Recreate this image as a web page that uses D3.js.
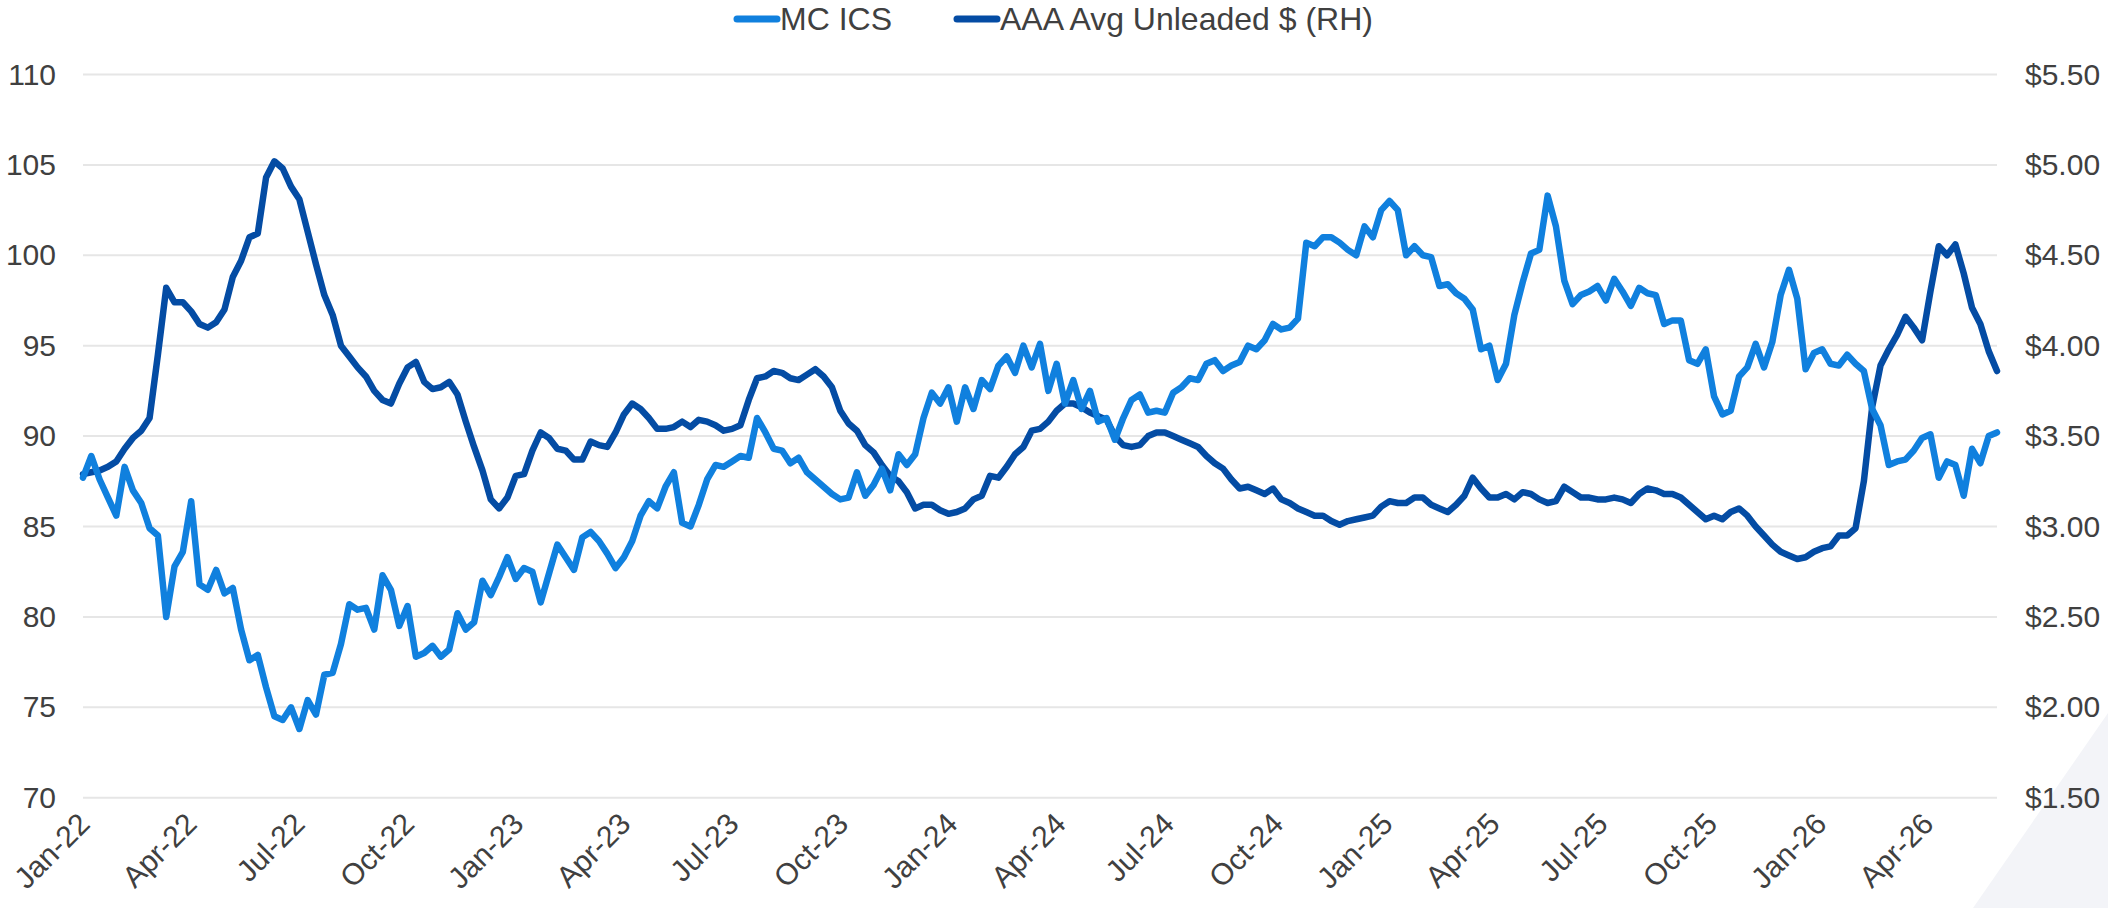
<!DOCTYPE html>
<html>
<head>
<meta charset="utf-8">
<script src="https://cdnjs.cloudflare.com/ajax/libs/d3/7.8.5/d3.min.js"></script>
<style>
  body { margin: 0; background: #fff; }
  svg text { font-family: "Liberation Sans", Arial, sans-serif; fill: #404040; }
</style>
</head>
<body>
<script>
/* weekly readings, first one on 2022-01-01 */
var startDate = "2022-01-01"
var seriesNames = ["MC ICS", "AAA Avg Unleaded $ (RH)"]

var icsValues = [
  87.7, 88.9, 87.6, 86.6, 85.6, 88.3, 87.0, 86.3, 84.9, 84.5,
  80.0, 82.8, 83.6, 86.4, 81.8, 81.5, 82.6, 81.3, 81.6, 79.3,
  77.6, 77.9, 76.1, 74.5, 74.3, 75.0, 73.8, 75.4, 74.6, 76.8,
  76.9, 78.5, 80.7, 80.4, 80.5, 79.3, 82.3, 81.5, 79.5, 80.6,
  77.8, 78.0, 78.4, 77.8, 78.2, 80.2, 79.3, 79.7,
  82.0, 81.2, 82.2, 83.3, 82.1, 82.7, 82.5, 80.8, 82.4, 84.0,
  83.3, 82.6, 84.4, 84.7, 84.2, 83.5, 82.7, 83.3, 84.2, 85.6,
  86.4, 86.0, 87.2, 88.0, 85.2, 85.0, 86.2, 87.6, 88.4, 88.3,
  88.6, 88.9, 88.8, 91.0, 90.2, 89.3, 89.2, 88.5, 88.8, 88.0,
  87.6, 87.2, 86.8, 86.5, 86.6, 88.0, 86.7,
  87.3, 88.2, 87.0, 89.0, 88.4, 89.0, 91.0, 92.4, 91.8, 92.7,
  90.8, 92.7, 91.5, 93.1, 92.6, 93.9, 94.4, 93.5, 95.0, 93.8,
  95.1, 92.5, 94.0, 91.8, 93.1, 91.5, 92.5, 90.8, 91.0, 89.8,
  91.0, 92.0, 92.3, 91.3, 91.4, 91.3, 92.4, 92.7, 93.2, 93.1,
  94.0, 94.2, 93.6, 93.9, 94.1, 95.0, 94.8,
  95.3, 96.2, 95.9, 96.0, 96.5, 100.7, 100.5, 101.0, 101.0, 100.7,
  100.3, 100.0, 101.6, 101.0, 102.5, 103.0, 102.5, 100.0, 100.5, 100.0,
  99.9, 98.3, 98.4, 97.9, 97.6, 97.0, 94.8, 95.0, 93.1, 94.0,
  96.7, 98.5, 100.1, 100.3, 103.3, 101.6, 98.6, 97.3, 97.8, 98.0,
  98.3, 97.5, 98.7, 98.0, 97.2, 98.2, 97.9,
  97.8, 96.2, 96.4, 96.4, 94.2, 94.0, 94.8, 92.2, 91.2, 91.4,
  93.3, 93.8, 95.1, 93.8, 95.2, 97.8, 99.2, 97.6, 93.7, 94.6,
  94.8, 94.0, 93.9, 94.5, 94.0, 93.6, 91.5, 90.6, 88.4, 88.6,
  88.7, 89.2, 89.9, 90.1, 87.7, 88.6, 88.4, 86.7, 89.3, 88.5,
  90.0, 90.2
]

var gasValues = [
  3.29, 3.30, 3.31, 3.33, 3.36, 3.43, 3.49, 3.53, 3.60, 3.95,
  4.32, 4.24, 4.24, 4.19, 4.12, 4.10, 4.13, 4.20, 4.38, 4.47,
  4.60, 4.62, 4.93, 5.02, 4.98, 4.88, 4.81, 4.63, 4.45, 4.28,
  4.17, 4.00, 3.94, 3.88, 3.83, 3.75, 3.70, 3.68, 3.79, 3.88,
  3.91, 3.80, 3.76, 3.77, 3.80, 3.73, 3.58, 3.44,
  3.31, 3.15, 3.10, 3.16, 3.28, 3.29, 3.42, 3.52, 3.49, 3.43,
  3.42, 3.37, 3.37, 3.47, 3.45, 3.44, 3.52, 3.62, 3.68, 3.65,
  3.60, 3.54, 3.54, 3.55, 3.58, 3.55, 3.59, 3.58, 3.56, 3.53,
  3.54, 3.56, 3.70, 3.82, 3.83, 3.86, 3.85, 3.82, 3.81, 3.84,
  3.87, 3.83, 3.77, 3.64, 3.57, 3.53, 3.45,
  3.41, 3.34, 3.28, 3.25, 3.19, 3.10, 3.12, 3.12, 3.09, 3.07,
  3.08, 3.10, 3.15, 3.17, 3.28, 3.27, 3.33, 3.40, 3.44, 3.53,
  3.54, 3.58, 3.64, 3.68, 3.68, 3.66, 3.63, 3.61, 3.59, 3.50,
  3.45, 3.44, 3.45, 3.50, 3.52, 3.52, 3.50, 3.48, 3.46, 3.44,
  3.39, 3.35, 3.32, 3.26, 3.21, 3.22, 3.20,
  3.18, 3.21, 3.15, 3.13, 3.10, 3.08, 3.06, 3.06, 3.03, 3.01,
  3.03, 3.04, 3.05, 3.06, 3.11, 3.14, 3.13, 3.13, 3.16, 3.16,
  3.12, 3.10, 3.08, 3.12, 3.17, 3.27, 3.21, 3.16, 3.16, 3.18,
  3.15, 3.19, 3.18, 3.15, 3.13, 3.14, 3.22, 3.19, 3.16, 3.16,
  3.15, 3.15, 3.16, 3.15, 3.13, 3.18, 3.21,
  3.20, 3.18, 3.18, 3.16, 3.12, 3.08, 3.04, 3.06, 3.04, 3.08,
  3.10, 3.06, 3.00, 2.95, 2.90, 2.86, 2.84, 2.82, 2.83, 2.86,
  2.88, 2.89, 2.95, 2.95, 2.99, 3.25, 3.66, 3.89, 3.98, 4.06,
  4.16, 4.10, 4.03, 4.30, 4.55, 4.50, 4.56, 4.40, 4.21, 4.12,
  3.97, 3.86
]

var leftTicks = [70, 75, 80, 85, 90, 95, 100, 105, 110]
var rightTicks = [1.5, 2, 2.5, 3, 3.5, 4, 4.5, 5, 5.5]

var colors = ["#1080de", "#044ca4"]

var W = 2108, H = 908
var plotLeft = 83, plotRight = 1997, plotTop = 74.5, plotBottom = 797.7

var start = d3.timeParse("%Y-%m-%d")(startDate)
var dates = icsValues.map(function(v, i) { return d3.timeDay.offset(start, 7 * i) })

var x = d3.scaleTime()
  .domain([dates[0], dates[dates.length - 1]])
  .range([plotLeft, plotRight])

var yL = d3.scaleLinear().domain([70, 110]).range([plotBottom, plotTop])
var yR = d3.scaleLinear().domain([1.5, 5.5]).range([plotBottom, plotTop])

var svg = d3.select("body")
  .append("svg")
  .attr("width", W)
  .attr("height", H)

// pale corner shape at the bottom right
svg.append("polygon")
  .attr("points", "1973,908 2108,713 2108,908")
  .style("fill", "#f3f4f8")

// gridlines
svg.append("g")
  .selectAll("line")
  .data(leftTicks)
  .enter()
  .append("line")
  .attr("x1", plotLeft)
  .attr("x2", plotRight)
  .attr("y1", function(d) { return yL(d) })
  .attr("y2", function(d) { return yL(d) })
  .style("stroke", "#e6e6e6")
  .style("stroke-width", 2)

var leftAxis = svg.append("g")
  .attr("transform", "translate(" + plotLeft + ",0)")
  .call(d3.axisLeft(yL).tickValues(leftTicks).tickSize(0).tickPadding(27))
leftAxis.select(".domain").remove()

var rightAxis = svg.append("g")
  .attr("transform", "translate(" + plotRight + ",0)")
  .call(d3.axisRight(yR).tickValues(rightTicks).tickSize(0).tickPadding(28)
    .tickFormat(function(d) { return "$" + d3.format(".2f")(d) }))
rightAxis.select(".domain").remove()

var quarterTicks = d3.timeMonth.every(3).range(dates[0], dates[dates.length - 1])

var bottomAxis = svg.append("g")
  .attr("transform", "translate(0," + plotBottom + ")")
  .call(d3.axisBottom(x).tickValues(quarterTicks).tickSize(0)
    .tickFormat(d3.timeFormat("%b-%y")))
bottomAxis.select(".domain").remove()
bottomAxis.selectAll("text")
  .attr("y", 0)
  .attr("dy", 0)
  .attr("transform", "translate(8,28) rotate(-45)")
  .style("text-anchor", "end")

svg.selectAll(".tick text")
  .style("font-size", "30px")
  .style("fill", "#404040")

// series lines
var icsLine = d3.line()
  .x(function(d, i) { return x(dates[i]) })
  .y(function(d) { return yL(d) })

var gasLine = d3.line()
  .x(function(d, i) { return x(dates[i]) })
  .y(function(d) { return yR(d) })

svg.append("path")
  .datum(gasValues)
  .attr("d", gasLine)
  .style("fill", "none")
  .style("stroke", colors[1])
  .style("stroke-width", 6.5)
  .style("stroke-linejoin", "round")
  .style("stroke-linecap", "round")

svg.append("path")
  .datum(icsValues)
  .attr("d", icsLine)
  .style("fill", "none")
  .style("stroke", colors[0])
  .style("stroke-width", 6.5)
  .style("stroke-linejoin", "round")
  .style("stroke-linecap", "round")

// legend
var legendX = [737, 957]
var legend = svg.append("g")
  .selectAll("g")
  .data(seriesNames)
  .enter()
  .append("g")
  .attr("transform", function(d, i) { return "translate(" + legendX[i] + ",19)" })

legend.append("line")
  .attr("x1", 0)
  .attr("x2", 40)
  .style("stroke", function(d, i) { return colors[i] })
  .style("stroke-width", 7)
  .style("stroke-linecap", "round")

legend.append("text")
  .attr("x", 43)
  .attr("dy", "0.35em")
  .style("font-size", "32px")
  .text(function(d) { return d })
</script>
</body>
</html>
